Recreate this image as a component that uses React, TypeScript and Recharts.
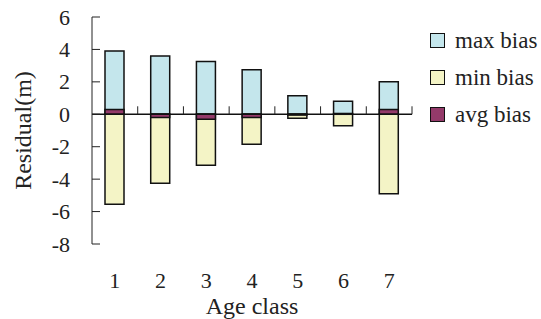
import { BarChart, Bar, XAxis, YAxis, ReferenceLine, Legend } from 'recharts'

const ageClasses = ['1', '2', '3', '4', '5', '6', '7']
const maxBias = [3.9, 3.6, 3.25, 2.75, 1.15, 0.8, 2.0]
const minBias = [-5.55, -4.25, -3.15, -1.85, -0.25, -0.7, -4.9]
const avgBias = [0.3, -0.2, -0.3, -0.2, -0.05, 0.05, 0.3]
const yTicks = [-8, -6, -4, -2, 0, 2, 4, 6]

const FONT = '"Liberation Serif", "Times New Roman", serif'

const series = [
  { key: 'max', name: 'max bias', color: '#C4E6EC' },
  { key: 'min', name: 'min bias', color: '#F4F4C6' },
  { key: 'avg', name: 'avg bias', color: '#943A6A' },
]

const data = ageClasses.map(function (c, i) {
  return { age: c, max: maxBias[i], min: minBias[i], avg: avgBias[i] }
})

function YTick(props: any) {
  const { x, y, payload } = props
  return (
    <g>
      <line x1={x} y1={y} x2={x + 8} y2={y} stroke="#222" strokeWidth={1} />
      <text x={x - 22} y={y} textAnchor="end" dominantBaseline="central"
        fontFamily={FONT} fontSize={22} fill="#222">
        {payload.value}
      </text>
    </g>
  )
}

function XTick(props: any) {
  const { x, y, payload } = props
  return (
    <text x={x} y={y + 36} textAnchor="middle" dominantBaseline="central"
      fontFamily={FONT} fontSize={22} fill="#222">
      {payload.value}
    </text>
  )
}

// zero line with the category separators pointing up
function ZeroLine(props: any) {
  const { x1, y1, x2, y2 } = props
  const n = ageClasses.length
  const step = (x2 - x1) / n
  const marks = []
  for (let k = 1; k <= n; k++) {
    const x = x1 + step * k
    marks.push(<line key={k} x1={x} y1={y1} x2={x} y2={y1 - 8} stroke="#222" strokeWidth={1} />)
  }
  return (
    <g>
      <line x1={x1} y1={y1} x2={x2} y2={y2} stroke="#111" strokeWidth={1.5} />
      {marks}
    </g>
  )
}

function LegendBox() {
  return (
    <div style={{ fontFamily: FONT, fontSize: 23, color: '#222' }}>
      {series.map(function (s) {
        return (
          <div key={s.key} style={{ display: 'flex', alignItems: 'center', height: 37 }}>
            <span style={{
              display: 'inline-block',
              width: 13,
              height: 13,
              border: '1.5px solid #111',
              backgroundColor: s.color,
              marginRight: 10,
            }} />
            <span style={{ lineHeight: '23px', whiteSpace: 'nowrap' }}>{s.name}</span>
          </div>
        )
      })}
    </div>
  )
}

export default function App() {
  return (
    <div style={{ position: 'absolute', left: 0, top: 0, width: 541, height: 319, background: '#fff' }}>
      <BarChart
        width={541}
        height={319}
        data={data}
        margin={{ top: 17, right: 129, bottom: 0, left: 0 }}
        barSize={19}
        barGap={-19}
      >
        <XAxis
          dataKey="age"
          height={75}
          axisLine={false}
          tickLine={false}
          tickSize={0}
          tickMargin={0}
          tick={<XTick />}
          label={{ value: 'Age class', position: 'insideBottom', offset: 5, style: { fontFamily: FONT, fontSize: 24, fill: '#222' } }}
        />
        <YAxis
          width={92}
          domain={[-8, 6]}
          ticks={yTicks}
          interval={0}
          axisLine={{ stroke: '#222', strokeWidth: 1 }}
          tickLine={false}
          tickSize={0}
          tickMargin={0}
          tick={<YTick />}
          label={{ value: 'Residual(m)', angle: -90, position: 'insideLeft', offset: 22, style: { textAnchor: 'middle', fontFamily: FONT, fontSize: 24, fill: '#222' } }}
        />
        <Legend
          layout="vertical"
          align="center"
          verticalAlign="middle"
          wrapperStyle={{ left: 430, top: 22, width: 111 }}
          content={<LegendBox />}
        />
        {series.map(function (s) {
          return (
            <Bar key={s.key} dataKey={s.key} name={s.name} fill={s.color}
              stroke="#111" strokeWidth={1.5} isAnimationActive={false} />
          )
        })}
        <ReferenceLine y={0} shape={<ZeroLine />} />
      </BarChart>
    </div>
  )
}
